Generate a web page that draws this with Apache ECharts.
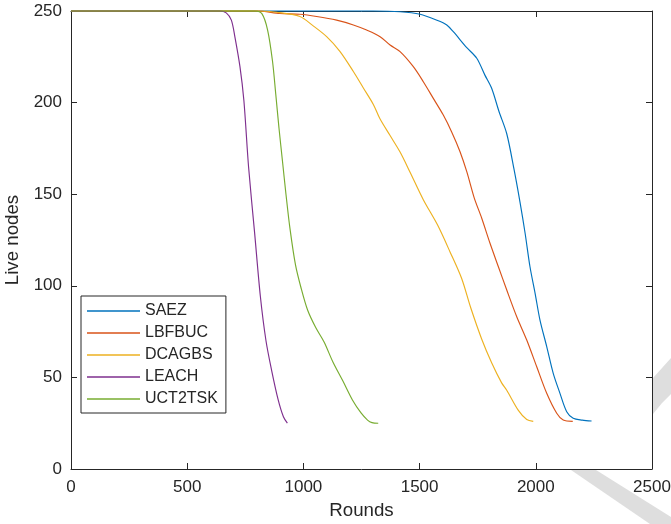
<!DOCTYPE html>
<html>
<head>
<meta charset="utf-8">
<script src="https://cdn.jsdelivr.net/npm/echarts@6/dist/echarts.min.js"></script>
<style>
html,body{margin:0;padding:0;background:#fff;}
#chart{width:671px;height:524px;}
</style>
</head>
<body>
<div id="chart"></div>
<script>
var seriesNames = ['SAEZ', 'LBFBUC', 'DCAGBS', 'LEACH', 'UCT2TSK'];
var seriesColors = ['#0072BD', '#D95319', '#EDB120', '#7E2F8E', '#77AC30'];
var xTicks = [0, 500, 1000, 1500, 2000, 2500];
var yTicks = [0, 50, 100, 150, 200, 250];

var roundsSAEZ = [0, 1300, 1416, 1502, 1574, 1617, 1645, 1703, 1746, 1781, 1810, 1842, 1875, 1906, 1932, 1954, 1975, 1997, 2018, 2047, 2075, 2104, 2133, 2161, 2200, 2240];
var nodesSAEZ  = [250, 250, 249.6, 248.2, 245, 242.4, 238.7, 230, 224.2, 215, 207.8, 195, 183, 163.8, 145.7, 128.7, 110.4, 95.9, 81.3, 66.8, 52.2, 41.3, 31.3, 27.7, 26.7, 26.2];

var roundsLBFBUC = [0, 800, 899, 985, 1057, 1143, 1215, 1272, 1330, 1373, 1416, 1473, 1516, 1559, 1602, 1638, 1674, 1703, 1735, 1767, 1803, 1839, 1875, 1918, 1961, 2004, 2047, 2090, 2118, 2159];
var nodesLBFBUC  = [250, 250, 248.7, 248.2, 247, 245, 242.4, 239.6, 236, 231.4, 227.8, 219.6, 211.4, 202.3, 193.2, 184, 173.2, 162.3, 148, 137, 123.2, 110.4, 97.7, 83.1, 70.4, 55.8, 41.3, 30.4, 26.7, 26];

var roundsDCAGBS = [0, 800, 885, 985, 1041, 1100, 1157, 1215, 1258, 1301, 1330, 1373, 1416, 1459, 1516, 1578, 1631, 1681, 1720, 1767, 1810, 1853, 1875, 1925, 1961, 1989];
var nodesDCAGBS  = [250, 250, 249.3, 247, 242, 236, 228, 217, 208, 199, 191, 182, 173, 162, 147, 133, 118.5, 104, 88, 71, 58, 47, 43, 32, 27, 26];

var roundsLEACH = [0, 640, 668, 690, 705, 727, 744, 764, 790, 815, 839, 863, 891, 914, 931];
var nodesLEACH  = [250, 250, 249, 245, 236, 219.6, 201, 165, 129, 94, 70, 54, 38, 28.5, 25];

var roundsUCT2TSK = [0, 792, 822, 846, 867, 881, 895, 910, 925, 942, 966, 990, 1018, 1053, 1089, 1127, 1170, 1211, 1248, 1276, 1295, 1322];
var nodesUCT2TSK  = [250, 250, 248.4, 239.6, 222.7, 204.7, 186, 168, 150, 131.5, 111.4, 98.8, 86.8, 77.2, 69.3, 58.4, 48, 37.7, 30.6, 26.7, 25.3, 25];

var allRounds = [roundsSAEZ, roundsLBFBUC, roundsDCAGBS, roundsLEACH, roundsUCT2TSK];
var allNodes = [nodesSAEZ, nodesLBFBUC, nodesDCAGBS, nodesLEACH, nodesUCT2TSK];

function pairs(xs, ys) {
  var out = [];
  for (var i = 0; i < xs.length; i++) out.push([xs[i], ys[i]]);
  return out;
}

var FONT = '"Liberation Sans", Arial, Helvetica, sans-serif';
var AX = '#262626';

var series = seriesNames.map(function (name, i) {
  return {
    name: name,
    type: 'line',
    data: pairs(allRounds[i], allNodes[i]),
    showSymbol: false,
    symbol: 'none',
    smooth: 0.3,
    clip: false,
    lineStyle: { color: seriesColors[i], width: 1.15 },
    itemStyle: { color: seriesColors[i] },
    z: 3 + i
  };
});

function plain(v) { return String(v); }

var xBase = {
  type: 'value', min: xTicks[0], max: xTicks[xTicks.length - 1], interval: xTicks[1] - xTicks[0],
  splitLine: { show: false },
  axisLine: { show: true, onZero: false, lineStyle: { color: AX, width: 1 } },
  axisTick: { show: true, inside: true, length: 6, lineStyle: { color: AX, width: 1 } }
};
var yBase = {
  type: 'value', min: yTicks[0], max: yTicks[yTicks.length - 1], interval: yTicks[1] - yTicks[0],
  splitLine: { show: false },
  axisLine: { show: true, onZero: false, lineStyle: { color: AX, width: 1 } },
  axisTick: { show: true, inside: true, length: 6, lineStyle: { color: AX, width: 1 } }
};

var option = {
  animation: false,
  backgroundColor: '#ffffff',
  textStyle: { fontFamily: FONT },
  graphic: [
    { type: 'polygon', z: -1, shape: { points: [[571, 470], [596, 470], [671, 517], [671, 524], [650, 524]] }, style: { fill: '#dedede' }, silent: true },
    { type: 'polygon', z: -1, shape: { points: [[653, 378], [671, 358], [671, 394], [662, 403], [653, 414]] }, style: { fill: '#dedede' }, silent: true }
  ],
  grid: { left: 71, right: 19, top: 11, bottom: 55, show: true, backgroundColor: '#ffffff', borderWidth: 0, containLabel: false, outerBoundsMode: 'none' },
  legend: {
    orient: 'vertical', left: 81, top: 296,
    backgroundColor: '#ffffff', borderColor: AX, borderWidth: 1,
    padding: [7, 8, 6, 6],
    itemWidth: 53, itemHeight: 1.5, itemGap: 6,
    icon: 'rect',
    textStyle: { fontFamily: FONT, fontSize: 16, color: AX, lineHeight: 16, padding: [0, 0, 0, 0] },
    data: seriesNames
  },
  xAxis: [
    Object.assign({}, xBase, {
      position: 'bottom',
      name: 'Rounds', nameLocation: 'middle', nameGap: 32,
      nameTextStyle: { fontFamily: FONT, fontSize: 18.7, color: AX },
      axisLabel: { show: true, color: AX, fontFamily: FONT, fontSize: 17, margin: 10, formatter: plain }
    }),
    Object.assign({}, xBase, { position: 'top', axisLabel: { show: false } })
  ],
  yAxis: [
    Object.assign({}, yBase, {
      position: 'left',
      name: 'Live nodes', nameLocation: 'middle', nameGap: 44, nameRotate: 90,
      nameTextStyle: { fontFamily: FONT, fontSize: 18.7, color: AX },
      axisLabel: { show: true, color: AX, fontFamily: FONT, fontSize: 17, margin: 9, formatter: plain }
    }),
    Object.assign({}, yBase, { position: 'right', axisLabel: { show: false } })
  ],
  series: series
};

var chart = echarts.init(document.getElementById('chart'), null, { renderer: 'canvas' });
chart.setOption(option);
</script>
</body>
</html>
